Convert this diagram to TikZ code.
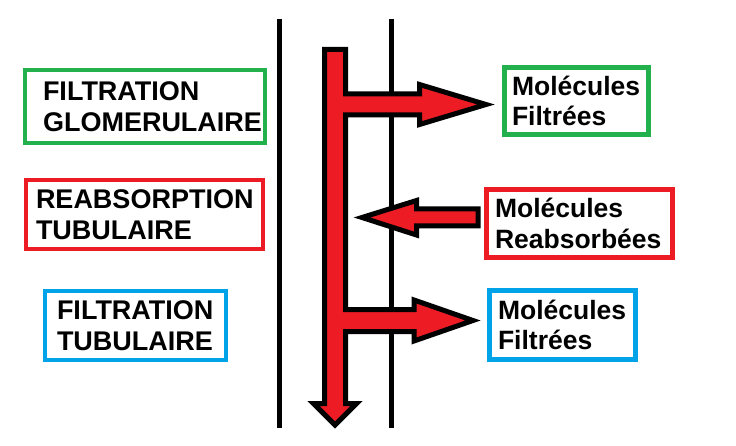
\documentclass[tikz,border=0pt]{standalone}
\usepackage{fontspec}
\setmainfont{Liberation Sans}
\definecolor{pgreen}{RGB}{34,177,76}
\definecolor{pred}{RGB}{237,28,36}
\definecolor{pblue}{RGB}{0,162,232}
\tikzset{
  box/.style={draw=#1, line width=4.5pt, anchor=north west, align=left,
    outer sep=0pt, inner ysep=0pt, font=\bfseries\fontsize{26.5}{30.5}\selectfont},
  caps/.style={font=\bfseries\fontsize{27}{30.5}\selectfont},
  arr/.style={fill=pred, draw=black, line width=5pt, line join=miter}
}
\begin{document}
\begin{tikzpicture}[x=1pt,y=-1pt]
\useasboundingbox (0,0) rectangle (736,446);
% membranes
\draw[line width=4.5pt] (279.5,19) -- (279.5,428);
\draw[line width=4.5pt] (391.5,19) -- (391.5,428);
% main arrow
\draw[arr] (324.5,49.5) -- (345.5,49.5) -- (345.5,94) -- (419.5,94) -- (419.5,84.5) -- (486,104.5) -- (419.5,124.5) -- (419.5,115) -- (345.5,115) -- (345.5,309.7) -- (414,309.7) -- (414,300) -- (473,320.5) -- (414,341) -- (414,331.7) -- (345.5,331.7) -- (345.5,403.5) -- (356.5,403.5) -- (335,425) -- (313.5,403.5) -- (324.5,403.5) -- cycle;
% reabsorption arrow
\draw[arr] (478,209) -- (416.5,209) -- (416.5,200.5) -- (362,217.5) -- (416.5,235) -- (416.5,226) -- (478,226) -- cycle;
% left boxes
\node[box=pgreen, caps, minimum height=73pt, text width=204pt, inner xsep=18pt] (gl) at (25,70) {FILTRATION\\GLOMERULAIRE};
\node[box=pred, caps, minimum height=69pt, text width=217pt, inner xsep=10pt] (rl) at (26,180) {REABSORPTION\\TUBULAIRE};
\node[box=pblue, caps, minimum height=69pt, text width=157pt, inner xsep=12pt] (bl) at (45,291) {FILTRATION\\TUBULAIRE};
% right boxes
\node[box=pgreen, minimum height=67pt, text width=129pt, inner xsep=7.5pt] (gr) at (504.5,67.5) {Molécules\\Filtrées};
\node[box=pred, minimum height=68pt, text width=169pt, inner xsep=8.5pt] (rr) at (486.5,189.5) {Molécules\\Reabsorbées};
\node[box=pblue, minimum height=69pt, text width=129pt, inner xsep=8.5pt] (br) at (489.5,290.5) {Molécules\\Filtrées};
\end{tikzpicture}
\end{document}
